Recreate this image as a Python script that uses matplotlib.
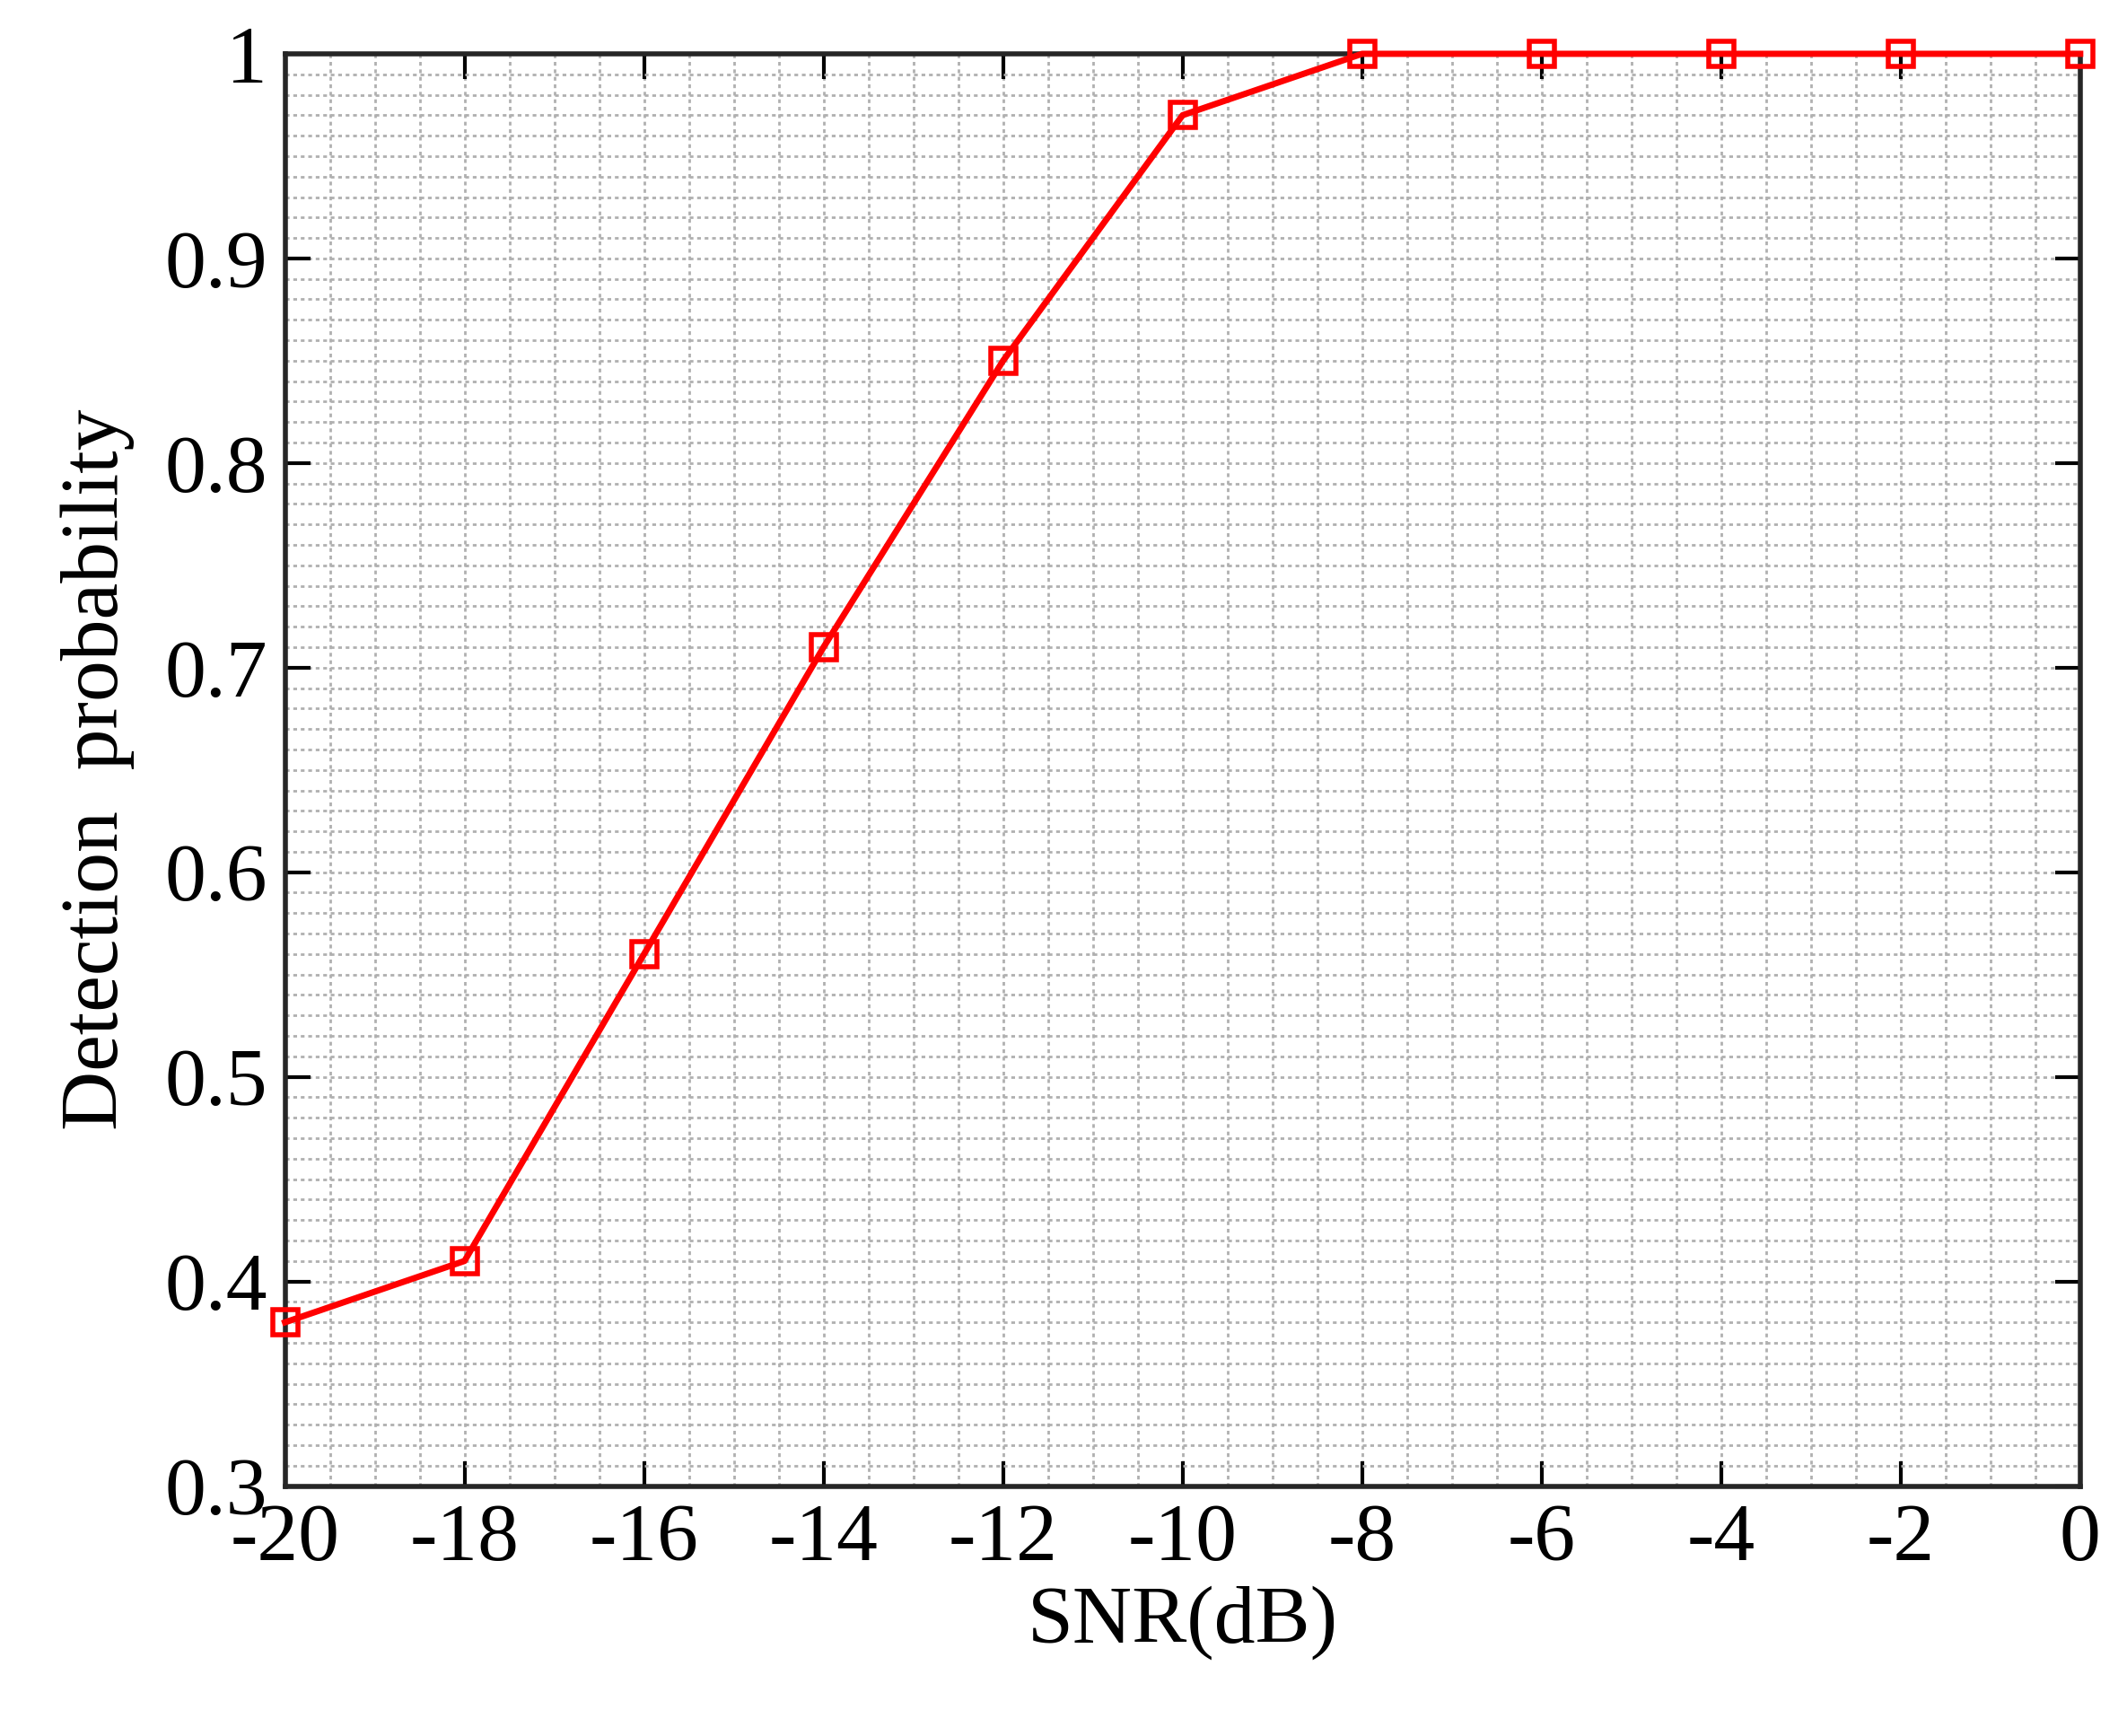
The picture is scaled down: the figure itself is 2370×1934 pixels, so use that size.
import matplotlib
matplotlib.use("Agg")
import matplotlib.pyplot as plt
from matplotlib.ticker import MultipleLocator, FuncFormatter

snr = [-20, -18, -16, -14, -12, -10, -8, -6, -4, -2, 0]
pd_values = [0.38, 0.41, 0.56, 0.71, 0.85, 0.97, 1.0, 1.0, 1.0, 1.0, 1.0]

plt.rcParams['font.family'] = ['Liberation Serif', 'DejaVu Serif']

fig = plt.figure(figsize=(23.7, 19.34), dpi=100)
ax = fig.add_axes([0.134, 0.144, 0.844, 0.825])

ax.plot(snr, pd_values, color="red", linewidth=5, marker="s", markersize=20,
        markerfacecolor="none", markeredgecolor="red", markeredgewidth=4, clip_on=False, zorder=5)

ax.set_xlim(-20, 0)
ax.set_ylim(0.3, 1.0)
ax.xaxis.set_major_locator(MultipleLocator(2))
ax.yaxis.set_major_locator(MultipleLocator(0.1))
ax.xaxis.set_minor_locator(MultipleLocator(0.5))
ax.yaxis.set_minor_locator(MultipleLocator(0.01))
ax.xaxis.set_major_formatter(FuncFormatter(lambda v, p: "%d" % round(v)))
ax.yaxis.set_major_formatter(FuncFormatter(lambda v, p: "1" if abs(v - 1) < 1e-6 else "%.1f" % v))
ax.grid(True, which="both", linestyle=(0, (1.5, 1.5)), color="#b0b0b0", linewidth=2)
ax.tick_params(which="major", direction="in", length=20, width=3, labelsize=66,
               top=True, right=True, pad=14)
ax.tick_params(which="minor", length=0)
for s in ax.spines.values():
    s.set_linewidth(4)
    s.set_color("#262626")

ax.set_xlabel("SNR(dB)", fontsize=66, labelpad=6)
ax.set_ylabel("Detection  probability", fontsize=66, labelpad=24)

fig.savefig("out.png", dpi=100)
